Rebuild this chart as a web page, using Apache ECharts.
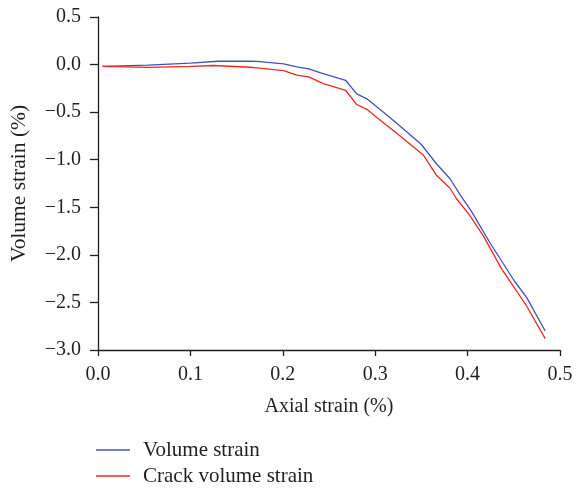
<!DOCTYPE html>
<html>
<head>
<meta charset="utf-8">
<script src="https://cdn.jsdelivr.net/npm/echarts@6/dist/echarts.min.js"></script>
<style>
html,body{margin:0;padding:0;background:#fff;}
#chart{width:576px;height:490px;}
</style>
</head>
<body>
<div id="chart"></div>
<script>
var seriesNames = ["Volume strain", "Crack volume strain"];
var seriesColors = ["#4452b8", "#e82a22"];
var volumeStrain = [
  [0.005,-0.018],[0.054,-0.005],[0.1,0.015],[0.13,0.035],[0.165,0.035],[0.172,0.033],
  [0.201,0.008],[0.215,-0.025],[0.228,-0.045],[0.241,-0.088],[0.268,-0.165],
  [0.280,-0.308],[0.291,-0.36],[0.302,-0.445],[0.323,-0.613],[0.350,-0.84],
  [0.366,-1.04],[0.381,-1.2],[0.392,-1.37],[0.404,-1.54],[0.424,-1.87],
  [0.451,-2.28],[0.464,-2.45],[0.484,-2.8]
];
var crackVolumeStrain = [
  [0.005,-0.018],[0.054,-0.03],[0.1,-0.018],[0.125,-0.01],[0.165,-0.028],[0.172,-0.035],
  [0.201,-0.063],[0.215,-0.11],[0.228,-0.13],[0.244,-0.2],[0.268,-0.27],
  [0.280,-0.42],[0.291,-0.47],[0.302,-0.56],[0.323,-0.72],[0.352,-0.95],
  [0.366,-1.16],[0.381,-1.30],[0.388,-1.41],[0.402,-1.58],[0.417,-1.80],
  [0.437,-2.15],[0.453,-2.38],[0.464,-2.54],[0.484,-2.88]
];
var xAxisTitle = "Axial strain (%)";
var yAxisTitle = "Volume strain (%)";

var FONT = "'Liberation Serif', 'DejaVu Serif', serif";
var TXT = "#231f20";
function fmt(v){ var s = Math.abs(v).toFixed(1); return (v < -1e-9 ? "\u2212" : "") + s; }

function legendFor(i, top){
  return {
    orient:'vertical', left:96, top:top, padding:0,
    itemWidth:34, itemHeight:1.4, icon:'rect',
    textStyle:{fontFamily:FONT, fontSize:21, lineHeight:22, color:TXT, padding:[0,0,0,8]},
    data:[{name:seriesNames[i], icon:'rect', itemStyle:{color:seriesColors[i]}}]
  };
}

var chart = echarts.init(document.getElementById('chart'), null, {renderer:'canvas'});
chart.setOption({
  animation:false,
  backgroundColor:'#fff',
  grid:{left:97, right:16, top:17, bottom:140, containLabel:false},
  xAxis:{
    type:'value', min:0, max:0.5, interval:0.1,
    name:xAxisTitle, nameLocation:'middle', nameGap:47,
    nameTextStyle:{fontFamily:FONT, fontSize:20, color:TXT},
    axisLine:{onZero:false, lineStyle:{color:'#231f20', width:1.3}},
    axisTick:{show:true, length:6, lineStyle:{color:'#231f20', width:1.3}},
    axisLabel:{formatter:fmt, fontFamily:FONT, fontSize:20, color:TXT, margin:15},
    splitLine:{show:false}
  },
  yAxis:{
    type:'value', min:-3, max:0.5, interval:0.5,
    name:yAxisTitle, nameLocation:'middle', nameGap:68, nameRotate:90,
    nameTextStyle:{fontFamily:FONT, fontSize:21.5, color:TXT},
    axisLine:{show:true, onZero:false, lineStyle:{color:'#231f20', width:1.3}},
    axisTick:{show:true, length:8, lineStyle:{color:'#231f20', width:1.3}},
    axisLabel:{formatter:fmt, fontFamily:FONT, fontSize:20, color:TXT, margin:17},
    splitLine:{show:false}
  },
  legend:[legendFor(0, 439), legendFor(1, 465)],
  series:[
    {name:seriesNames[0], type:'line', data:volumeStrain, symbol:'none', smooth:false,
     color:seriesColors[0], lineStyle:{width:1.3, color:seriesColors[0]}},
    {name:seriesNames[1], type:'line', data:crackVolumeStrain, symbol:'none', smooth:false,
     color:seriesColors[1], lineStyle:{width:1.3, color:seriesColors[1]}}
  ]
});
</script>
</body>
</html>
